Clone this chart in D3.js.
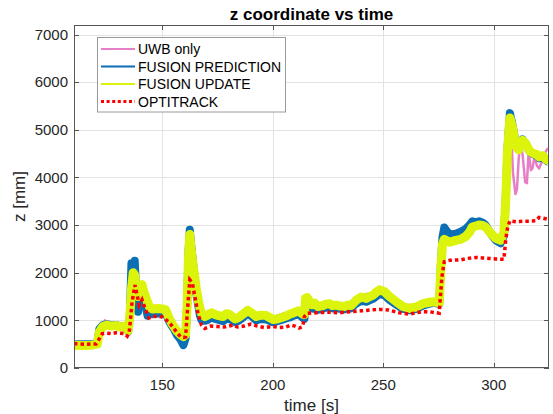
<!DOCTYPE html>
<html>
<head>
<meta charset="utf-8">
<script src="https://cdn.jsdelivr.net/npm/d3@7"></script>
<style>
  html, body { margin: 0; padding: 0; background: #fff; }
  svg { display: block; font-family: "Liberation Sans", Arial, Helvetica, sans-serif; }
</style>
</head>
<body>
<svg id="chart" width="553" height="414"></svg>
<script>
// ---- data -------------------------------------------------------------
const xTicks = [150, 200, 250, 300];
const yTicks = [0, 1000, 2000, 3000, 4000, 5000, 6000, 7000];

const seriesNames = ["UWB only", "FUSION PREDICTION", "FUSION UPDATE", "OPTITRACK"];

// FUSION UPDATE (time [s], z [mm])
const updateTime = [110, 114, 118, 120.5, 121.5, 123, 125, 127, 129, 131, 133, 134.5, 135.3, 136, 136.8, 137.5, 138.2, 139, 139.8, 140.8, 141.6, 142.4, 143.3, 144.2, 145.5, 148, 150, 151.5, 152.9, 154, 155.2, 156.5, 158.2, 159.5, 160.5, 161.2, 161.8, 162.4, 163, 163.9, 164.7, 165.4, 166.1, 167, 167.7, 169.2, 170.5, 172.2, 174, 175.5, 177.5, 179, 180.5, 182.8, 184.5, 186.5, 188.7, 190.5, 192.5, 194.5, 197, 198.5, 200, 202, 204, 206, 207.6, 209.5, 211.5, 213.6, 214.3, 214.8, 215.5, 216.6, 217.8, 218.9, 220.4, 222.6, 224, 225.6, 227, 228.6, 230.5, 232.4, 234, 235.4, 237.7, 240, 242.3, 243.8, 245.3, 246.8, 248.3, 250.6, 252.8, 255.9, 258.9, 261.9, 264.9, 267.9, 271, 273, 275.3, 276.1, 276.8, 277.6, 278.3, 280, 282.8, 285, 287.3, 289, 290.3, 291.8, 293.3, 295, 296.3, 298.6, 300.9, 303.1, 304.6, 305.4, 306.2, 307.3, 308.5, 310, 311.2, 312, 313, 314.5, 316, 317.2, 318.3, 319.5, 320.6, 322.1, 323.2, 324.3, 325];
const updateZ = [480, 470, 480, 500, 760, 870, 900, 880, 890, 860, 880, 780, 1100, 1650, 2000, 1950, 1600, 1500, 1650, 1750, 1600, 1500, 1380, 1280, 1240, 1250, 1240, 1220, 1060, 960, 870, 780, 700, 660, 700, 1300, 2300, 2800, 2500, 2150, 1900, 1650, 1460, 1250, 1150, 1080, 1110, 1160, 1120, 1100, 1080, 1140, 1120, 1030, 1060, 1130, 1210, 1150, 1080, 1110, 1100, 1060, 1020, 1030, 1060, 1090, 1130, 1160, 1200, 1130, 1120, 1460, 1480, 1400, 1330, 1360, 1290, 1310, 1340, 1350, 1310, 1320, 1300, 1290, 1320, 1310, 1420, 1490, 1460, 1500, 1530, 1590, 1640, 1600, 1500, 1390, 1290, 1250, 1280, 1350, 1380, 1390, 1360, 2150, 2600, 2700, 2680, 2640, 2680, 2700, 2760, 2850, 2960, 2980, 3000, 2990, 2960, 2830, 2720, 2680, 2850, 3500, 4550, 5250, 5050, 4650, 4580, 4700, 4780, 4710, 4570, 4520, 4500, 4480, 4430, 4460, 4400, 4360, 4380];

// FUSION PREDICTION
const predTime = [110, 118, 120.5, 121.5, 123, 125, 127, 129, 131, 133, 134.5, 135.3, 136, 136.6, 137.5, 138.2, 139, 139.8, 140.8, 141.6, 142.4, 143.3, 144.2, 145.5, 148, 150, 151.5, 152.9, 154, 155.2, 156.5, 158.2, 159.5, 160.5, 161.2, 161.8, 162.4, 163, 163.9, 164.7, 165.4, 166.1, 167, 167.7, 169.2, 170.5, 172.2, 174, 175.5, 177.5, 179, 180.5, 182.8, 184.5, 186.5, 188.7, 190.5, 192.5, 194.5, 197, 198.5, 200, 202, 204, 206, 207.6, 209.5, 211.5, 213.6, 214.3, 214.8, 215.5, 216.6, 217.8, 220.4, 222.6, 224, 225.6, 227, 228.6, 230.5, 232.4, 234, 235.4, 237.7, 240, 242.3, 243.8, 245.3, 246.8, 248.3, 250.6, 252.8, 255.9, 258.9, 261.9, 264.9, 267.9, 271, 273, 275.3, 276.1, 276.8, 277.6, 278.3, 280, 282.8, 285, 287.3, 289, 290.3, 291.8, 293.3, 295, 296.3, 298.6, 300.9, 303.1, 304.6, 305.4, 306.2, 307.3, 308.5, 310, 311.2, 312, 313, 314.5, 316, 317.2, 318.3, 319.5, 320.6, 322.1, 323.2, 324.3, 325];
const predZ = [500, 500, 510, 820, 900, 920, 890, 900, 880, 880, 760, 1100, 2200, 1700, 2250, 1500, 1180, 1500, 1450, 1350, 1300, 1100, 1150, 1130, 1150, 1140, 1150, 990, 900, 820, 700, 600, 480, 620, 1300, 2400, 2900, 2600, 2200, 1850, 1550, 1350, 1100, 1000, 990, 1010, 1060, 1030, 1010, 980, 1040, 1030, 960, 990, 1060, 1140, 1080, 1000, 1030, 1020, 990, 960, 980, 1010, 1040, 1060, 1100, 1130, 1050, 1030, 1400, 1400, 1300, 1250, 1220, 1240, 1270, 1280, 1250, 1260, 1240, 1230, 1260, 1250, 1350, 1410, 1390, 1420, 1450, 1500, 1560, 1520, 1430, 1330, 1240, 1210, 1240, 1310, 1350, 1370, 1340, 2200, 2750, 2950, 2900, 2800, 2820, 2860, 2920, 3000, 3080, 3060, 3080, 3050, 3000, 2820, 2680, 2620, 2780, 3500, 4600, 5350, 5100, 4700, 4600, 4720, 4800, 4700, 4560, 4500, 4480, 4460, 4400, 4430, 4380, 4340, 4360];

// UWB only
const uwbTime = [110, 118, 120.5, 121.5, 123, 124, 125, 127, 129, 131, 133, 134.5, 135.3, 136, 136.8, 137.5, 138.2, 139, 139.8, 140.8, 142.4, 144.2, 145.5, 150, 152.9, 154.5, 156.5, 158.2, 159.5, 160.5, 161.2, 161.8, 162.4, 163.9, 165.4, 167, 169.2, 172.2, 177.5, 182.8, 188.7, 192.5, 200, 207.6, 213.6, 214.8, 216.6, 220.4, 225.6, 230.5, 235.4, 240, 245.3, 248.3, 252.8, 258.9, 264.9, 271, 275.3, 276.1, 277.6, 280, 285, 290.3, 293.3, 296.3, 300.9, 304.6, 305.4, 306.2, 307.3, 307.9, 308.7, 309.8, 310.5, 311.3, 312.2, 313.2, 314.2, 315, 315.8, 316.8, 317.6, 318.4, 319.5, 320.5, 321.5, 322.8, 323.6, 324.3, 325];
const uwbZ = [530, 520, 540, 800, 930, 1000, 960, 950, 950, 930, 940, 800, 1150, 1700, 2050, 1950, 1650, 1550, 1700, 1800, 1550, 1330, 1280, 1270, 1100, 1040, 820, 740, 680, 720, 1350, 2300, 2850, 2180, 1680, 1280, 1120, 1200, 1130, 1080, 1250, 1130, 1070, 1180, 1150, 1480, 1430, 1330, 1390, 1340, 1350, 1530, 1580, 1700, 1550, 1330, 1320, 1420, 1400, 2150, 2680, 2620, 2640, 2900, 2960, 2900, 2680, 2830, 3450, 4500, 5200, 4900, 4100, 3650, 3750, 4400, 4820, 4400, 3900, 3880, 4550, 4150, 4200, 4450, 4250, 4190, 4300, 4450, 4550, 4600, 4580];

// OPTITRACK
const optiTime = [110, 115, 120, 121, 122.8, 125, 127, 129, 131, 133, 134.1, 135, 135.6, 136.3, 137.6, 138.6, 139.5, 140.8, 142.4, 143.9, 145.5, 148, 150, 152.9, 155.2, 157, 158.2, 159.5, 160.5, 161.6, 162.4, 163.6, 164.7, 166.1, 167.7, 169.2, 172, 175, 178, 182, 184, 187, 190, 193, 196, 200, 203, 206, 208, 210, 212, 213.5, 214.3, 215.7, 220, 225, 230, 235, 240, 245, 248.2, 252, 257.2, 261.7, 265, 267.8, 271, 275.3, 276.5, 277.6, 280, 285, 288, 291.9, 295, 298, 300.9, 304.6, 305.4, 306.2, 307.3, 310, 313, 316, 319, 320.5, 322, 324.7];
const optiZ = [510, 500, 505, 580, 720, 730, 720, 740, 730, 720, 670, 750, 1040, 1390, 1740, 1530, 1320, 1430, 1220, 1050, 1080, 1090, 1070, 970, 830, 720, 660, 640, 650, 1360, 1850, 1780, 1500, 1150, 900, 830, 880, 870, 860, 900, 860, 880, 920, 880, 850, 870, 850, 860, 900, 880, 840, 870, 1080, 1150, 1160, 1170, 1160, 1180, 1200, 1220, 1230, 1220, 1160, 1130, 1160, 1180, 1180, 1150, 1900, 2230, 2260, 2270, 2300, 2320, 2310, 2300, 2290, 2280, 2690, 2930, 3090, 3070, 3080, 3080, 3090, 3160, 3150, 3120];

// ---- layout -----------------------------------------------------------
const plot = { left: 74, right: 549, top: 25, bottom: 368 };
const colors = ["#e67fc6", "#0a6fb5", "#dcf40c", "#ff0000"];

const svg = d3.select("#chart");
const x = d3.scaleLinear().domain([110, 325]).range([plot.left, plot.right]);
const y = d3.scaleLinear().domain([0, 7200]).range([plot.bottom, plot.top]);

const W = plot.right - plot.left, H = plot.bottom - plot.top;

// grid
const grid = svg.append("g");
grid.selectAll("line.gx").data(xTicks).enter().append("line")
  .attr("x1", d => Math.round(x(d)) + 0.5).attr("x2", d => Math.round(x(d)) + 0.5)
  .attr("y1", plot.top).attr("y2", plot.bottom)
  .attr("stroke", "#e3e3e3").attr("stroke-width", 1);
grid.selectAll("line.gy").data(yTicks).enter().append("line")
  .attr("y1", d => Math.round(y(d)) + 0.5).attr("y2", d => Math.round(y(d)) + 0.5)
  .attr("x1", plot.left).attr("x2", plot.right)
  .attr("stroke", "#e3e3e3").attr("stroke-width", 1);

// series
const clip = svg.append("clipPath").attr("id", "plotclip").append("rect")
  .attr("x", plot.left).attr("y", plot.top).attr("width", W).attr("height", H);
const lines = svg.append("g").attr("clip-path", "url(#plotclip)");
const lineGen = d3.line().x(d => x(d[0])).y(d => y(d[1]));
const zipSeries = (t, z) => t.map((v, i) => [v, z[i]]);

lines.append("path").datum(zipSeries(uwbTime, uwbZ))
  .attr("d", lineGen).attr("fill", "none").attr("stroke", colors[0])
  .attr("stroke-width", 2.5).attr("stroke-linejoin", "round");
lines.append("path").datum(zipSeries(predTime, predZ))
  .attr("d", lineGen).attr("fill", "none").attr("stroke", colors[1])
  .attr("stroke-width", 8).attr("stroke-linejoin", "round");
lines.append("path").datum(zipSeries(updateTime, updateZ))
  .attr("d", lineGen).attr("fill", "none").attr("stroke", colors[2])
  .attr("stroke-width", 9).attr("stroke-linejoin", "round");
lines.append("path").datum(zipSeries(optiTime, optiZ))
  .attr("d", lineGen).attr("fill", "none").attr("stroke", colors[3])
  .attr("stroke-width", 3.5).attr("stroke-dasharray", "3.5,3");

// axes box with inward ticks on all four sides
const axisColor = "#555";
const tickLen = 5;
const box = svg.append("g");
box.append("rect").attr("x", plot.left + 0.5).attr("y", plot.top + 0.5)
  .attr("width", W - 1).attr("height", H - 1)
  .attr("fill", "none").attr("stroke", axisColor).attr("stroke-width", 1);
xTicks.forEach(d => {
  const px = Math.round(x(d)) + 0.5;
  box.append("line").attr("x1", px).attr("x2", px).attr("y1", plot.bottom).attr("y2", plot.bottom - tickLen).attr("stroke", axisColor);
  box.append("line").attr("x1", px).attr("x2", px).attr("y1", plot.top).attr("y2", plot.top + tickLen).attr("stroke", axisColor);
});
yTicks.forEach(d => {
  const py = Math.round(y(d)) + 0.5;
  box.append("line").attr("x1", plot.left).attr("x2", plot.left + tickLen).attr("y1", py).attr("y2", py).attr("stroke", axisColor);
  box.append("line").attr("x1", plot.right).attr("x2", plot.right - tickLen).attr("y1", py).attr("y2", py).attr("stroke", axisColor);
});

// tick labels
const labelColor = "#262626";
svg.append("g").selectAll("text").data(xTicks).enter().append("text")
  .attr("x", d => x(d)).attr("y", 390).attr("text-anchor", "middle")
  .attr("font-size", 15).attr("fill", labelColor).text(d => d);
svg.append("g").selectAll("text").data(yTicks).enter().append("text")
  .attr("x", 68).attr("y", d => y(d) + 5.3).attr("text-anchor", "end")
  .attr("font-size", 15).attr("fill", labelColor).text(d => d);

// title and axis labels
svg.append("text").attr("x", (plot.left + plot.right) / 2).attr("y", 20)
  .attr("text-anchor", "middle").attr("font-size", 17).attr("font-weight", "bold")
  .attr("fill", "#000").text("z coordinate vs time");
svg.append("text").attr("x", (plot.left + plot.right) / 2).attr("y", 411)
  .attr("text-anchor", "middle").attr("font-size", 17).attr("fill", labelColor)
  .text("time [s]");
svg.append("text").attr("transform", `translate(25,${(plot.top + plot.bottom) / 2}) rotate(-90)`)
  .attr("text-anchor", "middle").attr("font-size", 17).attr("fill", labelColor)
  .text("z [mm]");

// legend
const legend = svg.append("g");
legend.append("rect").attr("x", 97.5).attr("y", 37.5).attr("width", 188).attr("height", 74.5)
  .attr("fill", "#fff").attr("stroke", "#9a9a9a").attr("stroke-width", 1);
const legendY = [49, 66.5, 84, 101.5];
seriesNames.forEach((name, i) => {
  const ln = legend.append("line").attr("x1", 101).attr("x2", 135)
    .attr("y1", legendY[i]).attr("y2", legendY[i]).attr("stroke", colors[i]);
  if (i === 3) ln.attr("stroke-width", 3).attr("stroke-dasharray", "3,2.6");
  else ln.attr("stroke-width", 2);
  legend.append("text").attr("x", 138).attr("y", legendY[i] + 5)
    .attr("font-size", 14).attr("fill", "#000").text(name);
});
</script>
</body>
</html>
